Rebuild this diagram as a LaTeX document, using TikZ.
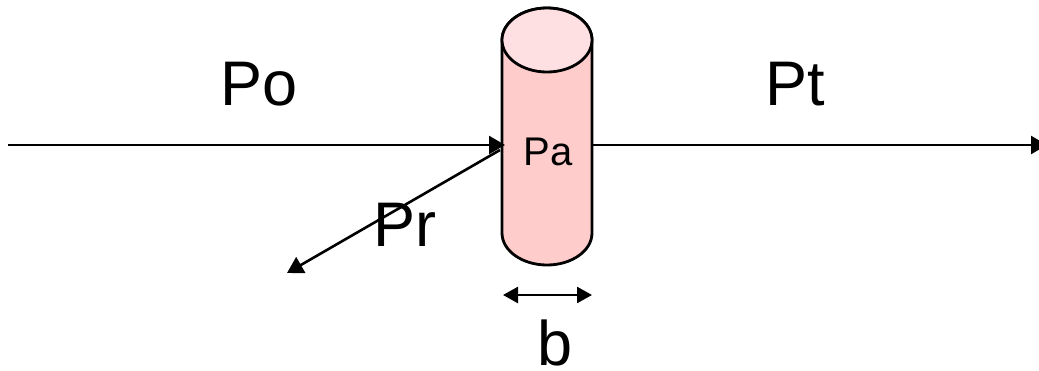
\documentclass[tikz,border=0pt]{standalone}
\usepackage{fontspec}
\setmainfont{Liberation Sans}
\usetikzlibrary{arrows.meta}
\definecolor{cylbody}{RGB}{255,204,204}
\definecolor{cyltop}{RGB}{255,224,226}
\tikzset{
  conn/.style={draw=black,line width=2.6pt,-{Triangle[length=16pt,width=18pt]}},
  dim/.style={draw=black,line width=2.6pt,{Triangle[length=15pt,width=16pt]}-{Triangle[length=15pt,width=16pt]}},
  biglabel/.style={inner sep=0pt,anchor=base,font=\fontsize{63}{63}\selectfont},
  smalllabel/.style={inner sep=0pt,anchor=base,font=\fontsize{40}{40}\selectfont},
  cyl/.style={draw=black,line width=2.8pt}
}
\begin{document}
\begin{tikzpicture}[x=1pt,y=-1pt]
\useasboundingbox (0,0) rectangle (1039,370);
\coordinate (inL) at (8,145);
\coordinate (hit) at (505,145);
\coordinate (outR) at (592,145);
\coordinate (outEnd) at (1047,145);
\coordinate (rStart) at (500,150);
\coordinate (rEnd) at (287,273);
\coordinate (bL) at (503,295);
\coordinate (bR) at (592,295);
\path[fill=cylbody,cyl] (502,40) -- (502,233) arc[start angle=180,end angle=360,x radius=45,y radius=-32] -- (592,40) arc[start angle=0,end angle=180,x radius=45,y radius=-32] -- cycle;
\path[fill=cyltop,cyl] (547,40) ellipse[x radius=45,y radius=32];
\draw[conn] (inL) -- (hit);
\draw[conn] (outR) -- (outEnd);
\draw[conn] (rStart) -- (rEnd);
\draw[dim] (bL) -- (bR);
\node[biglabel] (po) at (259,105) {Po};
\node[biglabel] (pt) at (795,105) {Pt};
\node[biglabel] (pr) at (405,246) {Pr};
\node[smalllabel] (pa) at (548,165) {Pa};
\node[biglabel] (b) at (555,365.5) {b};
\end{tikzpicture}
\end{document}
